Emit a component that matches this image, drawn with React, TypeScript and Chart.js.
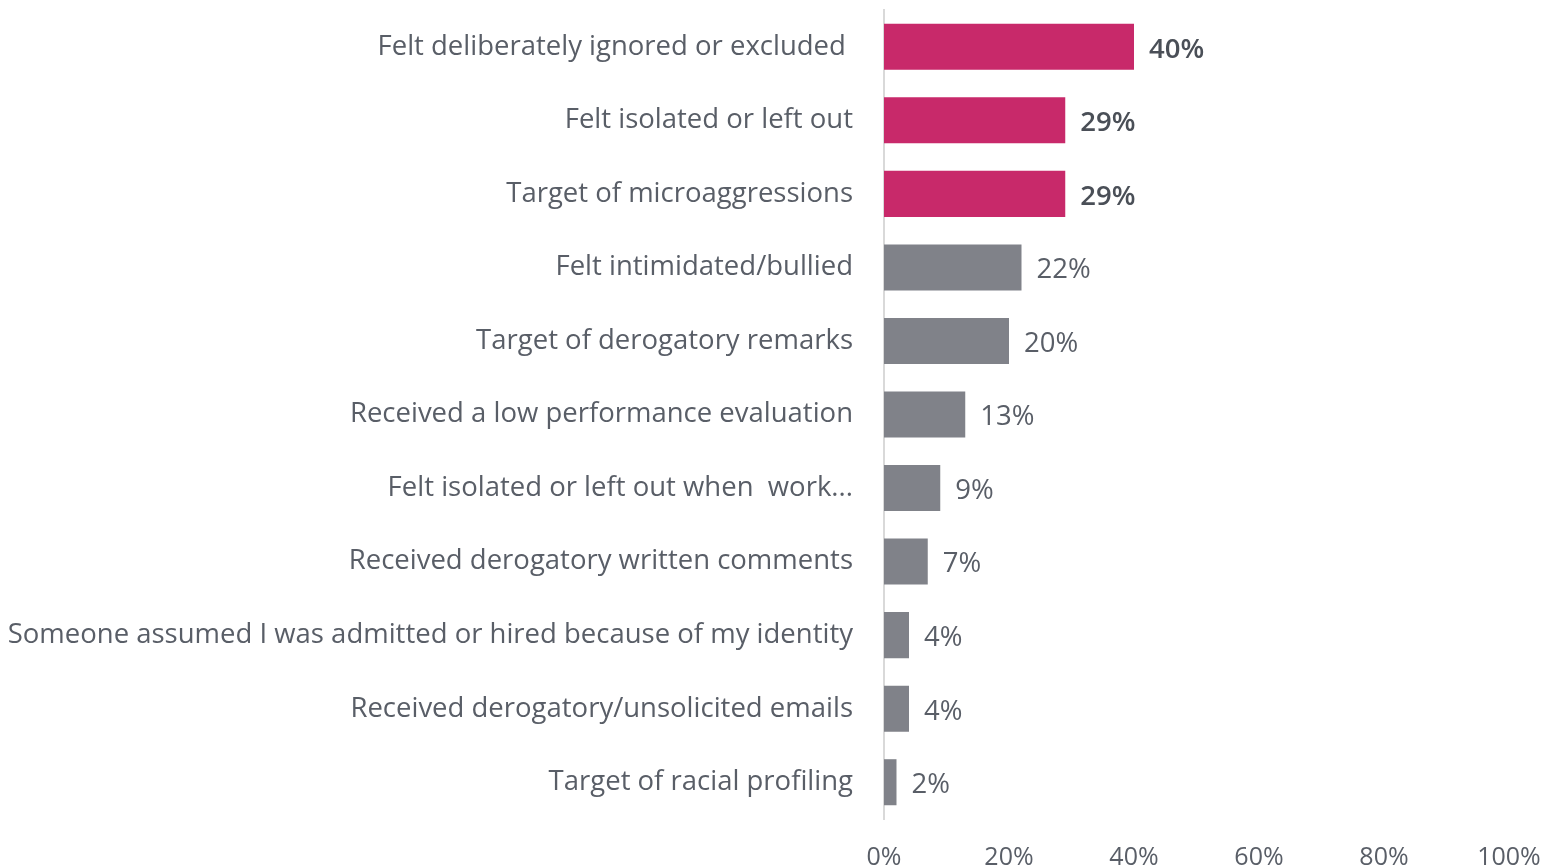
import React, { useEffect, useRef } from "react";
import { Chart, registerables } from "chart.js";

Chart.register(...registerables);

const categories = [
  "Felt deliberately ignored or excluded ",
  "Felt isolated or left out",
  "Target of microaggressions",
  "Felt intimidated/bullied",
  "Target of derogatory remarks",
  "Received a low performance evaluation",
  "Felt isolated or left out when  work...",
  "Received derogatory written comments",
  "Someone assumed I was admitted or hired because of my identity",
  "Received derogatory/unsolicited emails",
  "Target of racial profiling",
];
const values = [40, 29, 29, 22, 20, 13, 9, 7, 4, 4, 2];
const highlighted = [true, true, true, false, false, false, false, false, false, false, false];
const xTicks = [0, 20, 40, 60, 80, 100];

const PINK = "#C8296A";
const GREY = "#808289";
const TEXT = "#595E67";
const FONT = "'Open Sans', sans-serif";

const valueLabels = {
  id: "valueLabels",
  afterDatasetsDraw(chart: any) {
    const ctx = chart.ctx;
    const meta = chart.getDatasetMeta(0);
    ctx.save();
    ctx.textBaseline = "middle";
    ctx.textAlign = "left";
    meta.data.forEach((bar: any, i: number) => {
      const hl = highlighted[i];
      ctx.font = `${hl ? "600" : "400"} 27.5px ${FONT}`;
      ctx.fillStyle = hl ? "#4A4F57" : TEXT;
      ctx.fillText(values[i] + "%", bar.x + 15, bar.y + 3);
    });
    ctx.restore();
  },
};

export default function App() {
  const ref = useRef<HTMLCanvasElement | null>(null);
  useEffect(() => {
    if (!ref.current) return;
    const chart = new Chart(ref.current, {
      type: "bar",
      data: {
        labels: categories,
        datasets: [
          {
            data: values,
            backgroundColor: highlighted.map((h) => (h ? PINK : GREY)),
            categoryPercentage: 1,
            barPercentage: 0.626,
          },
        ],
      },
      plugins: [valueLabels],
      options: {
        indexAxis: "y",
        animation: false,
        responsive: false,
        maintainAspectRatio: false,
        layout: { padding: { top: 10, right: 37, left: 0, bottom: 0 } },
        plugins: { legend: { display: false }, tooltip: { enabled: false } },
        scales: {
          x: {
            min: 0,
            max: 100,
            afterBuildTicks: (s: any) => {
              s.ticks = xTicks.map((v) => ({ value: v }));
            },
            afterFit: (s: any) => {
              s.height = 46;
              s.paddingLeft = 0;
              s.paddingRight = 0;
            },
            grid: { display: false },
            border: { display: false },
            ticks: {
              color: TEXT,
              font: { family: FONT, size: 25 },
              padding: 16,
              maxRotation: 0,
              callback: (v: any) => v + "%",
            },
          },
          y: {
            afterFit: (s: any) => {
              s.width = 884;
              s.paddingTop = 0;
              s.paddingBottom = 0;
            },
            grid: { display: false },
            border: { display: true, color: "#D9D9D9", width: 2 },
            ticks: {
              color: TEXT,
              font: { family: FONT, size: 27.5, lineHeight: 1.05 },
              padding: 23,
              autoSkip: false,
            },
          },
        },
      },
    });
    return () => chart.destroy();
  }, []);
  return (
    <div style={{ position: "fixed", left: 0, top: 0, width: 1546, height: 865, background: "#fff" }}>
      <canvas ref={ref} width={1546} height={865} style={{ width: 1546, height: 865 }} />
    </div>
  );
}
